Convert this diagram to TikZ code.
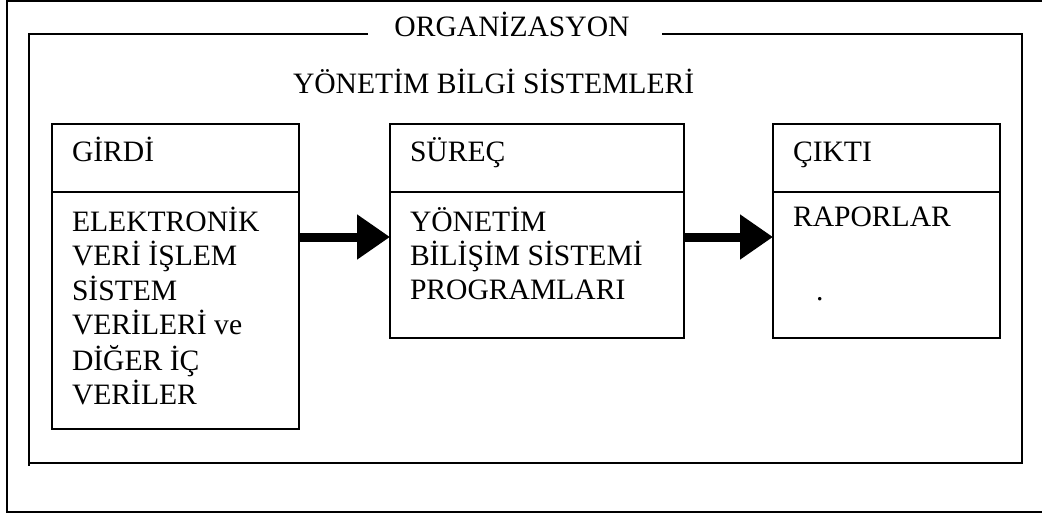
\documentclass[tikz,border=0pt]{standalone}
\usepackage{fontspec}
\setmainfont{Liberation Serif}
\usetikzlibrary{arrows.meta}
\begin{document}
\begin{tikzpicture}[x=1pt,y=-1pt,
  line width=2pt,
  every node/.style={font=\fontsize{29.6}{34}\selectfont, inner sep=0pt, outer sep=0pt},
  txt/.style={anchor=base west},
  part/.style={draw, line width=2pt, anchor=north west},
  flowarrow/.style={line width=9pt, -{Triangle[length=33pt,width=43pt]}}
]
\useasboundingbox (0,0) rectangle (1042,516);

% outer border (open on the right)
\draw (1046,1) -- (7,1) -- (7,512) -- (1046,512);

% organisation frame with its title set into the top edge
\node (org) [anchor=base] at (512,37) {ORGANİZASYON};
\draw (368,34) -- (29,34) -- (29,466);
\draw (29,463) -- (1022,463) -- (1022,34) -- (662,34);

\node (mis) [txt] at (293,94) {YÖNETİM BİLGİ SİSTEMLERİ};

% input box
\node (girdiHead) [part, minimum width=247pt, minimum height=68pt] at (52,124) {};
\node (girdiBody) [part, minimum width=247pt, minimum height=237pt] at (52,192) {};
\node (girdiTitle) [txt] at (72,161) {GİRDİ};
\node (girdiText) [txt] at (72,231) {\begin{tabular}[t]{@{}l@{}}ELEKTRONİK\\VERİ İŞLEM\\SİSTEM\\VERİLERİ ve\\DİĞER İÇ\\VERİLER\end{tabular}};

% process box
\node (surecHead) [part, minimum width=294pt, minimum height=68pt] at (390,124) {};
\node (surecBody) [part, minimum width=294pt, minimum height=146pt] at (390,192) {};
\node (surecTitle) [txt] at (410,161) {SÜREÇ};
\node (surecText) [txt] at (410,231) {\begin{tabular}[t]{@{}l@{}}YÖNETİM\\BİLİŞİM SİSTEMİ\\PROGRAMLARI\end{tabular}};

% output box
\node (ciktiHead) [part, minimum width=227pt, minimum height=68pt] at (773,124) {};
\node (ciktiBody) [part, minimum width=227pt, minimum height=146pt] at (773,192) {};
\node (ciktiTitle) [txt] at (793,161) {ÇIKTI};
\node (ciktiText) [txt] at (793,226) {RAPORLAR};
\node (ciktiDot) [txt] at (816,300) {.};

% flow arrows
\coordinate (flow) at (0,237);
\draw[flowarrow] (girdiBody.east |- flow) -- (surecBody.west |- flow);
\draw[flowarrow] (surecBody.east |- flow) -- (ciktiBody.west |- flow);
\end{tikzpicture}
\end{document}
